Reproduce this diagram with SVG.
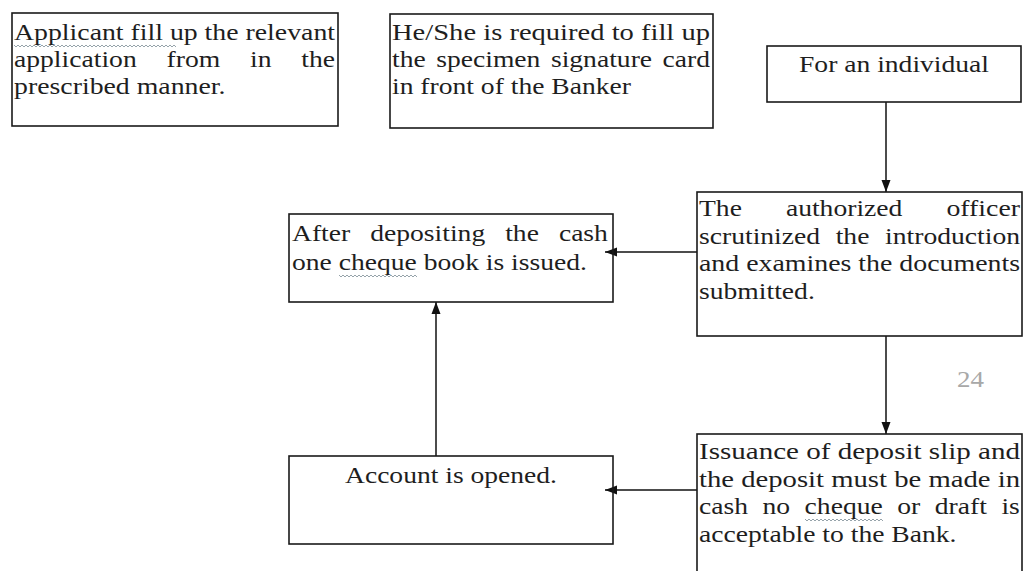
<svg xmlns="http://www.w3.org/2000/svg" width="1026" height="571" viewBox="0 0 1026 571">
<defs>
<style>
.box{fill:none;stroke:#1a1a1a;stroke-width:1.6}
.t{font-family:"Liberation Serif","Times New Roman",serif;font-size:23.5px;fill:#1e1e1e}
.c{stroke:#111;stroke-width:1.5;fill:none}
.sq{fill:none;stroke:#8a98a0;stroke-width:0.9}
</style>
<marker id="ah" viewBox="0 0 12 10" refX="12" refY="5" markerWidth="12" markerHeight="10" markerUnits="userSpaceOnUse" orient="auto">
<path d="M0,0.5 L12,5 L0,9.5 Z" fill="#111"/>
</marker>
</defs>
<rect width="1026" height="571" fill="#ffffff"/>

<g id="connectors">
<line class="c" x1="886" y1="102" x2="886" y2="192" marker-end="url(#ah)"/>
<line class="c" x1="697" y1="252" x2="605" y2="252" marker-end="url(#ah)"/>
<line class="c" x1="886" y1="336" x2="886" y2="434" marker-end="url(#ah)"/>
<line class="c" x1="697" y1="490" x2="605" y2="490" marker-end="url(#ah)"/>
<line class="c" x1="436" y1="456" x2="436" y2="302" marker-end="url(#ah)"/>
</g>

<g id="node-applicant">
<rect class="box" x="12" y="13" width="326" height="113"/>
<text class="t" x="14" y="40" textLength="321" lengthAdjust="spacingAndGlyphs">Applicant fill up the relevant</text>
<text class="t" x="14" y="67" textLength="122.7" lengthAdjust="spacingAndGlyphs">application</text>
<text class="t" x="166.5" y="67" textLength="53.7" lengthAdjust="spacingAndGlyphs">from</text>
<text class="t" x="250" y="67" textLength="21.5" lengthAdjust="spacingAndGlyphs">in</text>
<text class="t" x="301.3" y="67" textLength="33.7" lengthAdjust="spacingAndGlyphs">the</text>
<text class="t" x="14" y="94" textLength="211.5" lengthAdjust="spacingAndGlyphs">prescribed manner.</text>
<path class="sq" d="M14,45 l2,2 l2,-2 l2,2 l2,-2 l2,2 l2,-2 l2,2 l2,-2 l2,2 l2,-2 l2,2 l2,-2 l2,2 l2,-2 l2,2 l2,-2 l2,2 l2,-2 l2,2 l2,-2 l2,2 l2,-2 l2,2 l2,-2 l2,2 l2,-2 l2,2 l2,-2 l2,2 l2,-2 l2,2 l2,-2 l2,2 l2,-2 l2,2 l2,-2 l2,2 l2,-2 l2,2 l2,-2 l2,2 l2,-2 l2,2 l2,-2 l2,2 l2,-2 l2,2 l2,-2 l2,2 l2,-2 l2,2 l2,-2 l2,2 l2,-2 l2,2 l2,-2 l2,2 l2,-2 l2,2 l2,-2 l2,2 l2,-2 l2,2 l2,-2 l2,2 l2,-2 l2,2 l2,-2 l2,2 l2,-2 l2,2 l2,-2 l2,2 l2,-2 l2,2 l2,-2 l2,2 l2,-2 l2,2 l2,-2 l2,2"/>
</g>

<g id="node-signature">
<rect class="box" x="390" y="14" width="323" height="114"/>
<text class="t" x="392" y="40" textLength="318" lengthAdjust="spacingAndGlyphs">He/She is required to fill up</text>
<text class="t" x="392" y="67" textLength="33.7" lengthAdjust="spacingAndGlyphs">the</text>
<text class="t" x="436.2" y="67" textLength="104.2" lengthAdjust="spacingAndGlyphs">specimen</text>
<text class="t" x="550.9" y="67" textLength="101.2" lengthAdjust="spacingAndGlyphs">signature</text>
<text class="t" x="662.6" y="67" textLength="47.4" lengthAdjust="spacingAndGlyphs">card</text>
<text class="t" x="392" y="94" textLength="239" lengthAdjust="spacingAndGlyphs">in front of the Banker</text>
</g>

<g id="node-individual">
<rect class="box" x="767" y="46" width="254" height="56"/>
<text class="t" x="799" y="72" textLength="190" lengthAdjust="spacingAndGlyphs">For an individual</text>
</g>

<g id="node-officer">
<rect class="box" x="697" y="192" width="325" height="144"/>
<text class="t" x="699" y="216" textLength="42.9" lengthAdjust="spacingAndGlyphs">The</text>
<text class="t" x="785.9" y="216" textLength="116.5" lengthAdjust="spacingAndGlyphs">authorized</text>
<text class="t" x="946.4" y="216" textLength="73.6" lengthAdjust="spacingAndGlyphs">officer</text>
<text class="t" x="699" y="244" textLength="121.1" lengthAdjust="spacingAndGlyphs">scrutinized</text>
<text class="t" x="835.7" y="244" textLength="33.7" lengthAdjust="spacingAndGlyphs">the</text>
<text class="t" x="885.1" y="244" textLength="134.9" lengthAdjust="spacingAndGlyphs">introduction</text>
<text class="t" x="699" y="271" textLength="321" lengthAdjust="spacingAndGlyphs">and examines the documents</text>
<text class="t" x="699" y="299" textLength="115.8" lengthAdjust="spacingAndGlyphs">submitted.</text>
</g>

<g id="node-cheque-book">
<rect class="box" x="289" y="214" width="324" height="88"/>
<text class="t" x="292" y="241" textLength="58.2" lengthAdjust="spacingAndGlyphs">After</text>
<text class="t" x="370.2" y="241" textLength="115" lengthAdjust="spacingAndGlyphs">depositing</text>
<text class="t" x="505.2" y="241" textLength="33.7" lengthAdjust="spacingAndGlyphs">the</text>
<text class="t" x="558.9" y="241" textLength="49" lengthAdjust="spacingAndGlyphs">cash</text>
<text class="t" x="292" y="270" textLength="295" lengthAdjust="spacingAndGlyphs">one cheque book is issued.</text>
<path class="sq" d="M339,275 l2,2 l2,-2 l2,2 l2,-2 l2,2 l2,-2 l2,2 l2,-2 l2,2 l2,-2 l2,2 l2,-2 l2,2 l2,-2 l2,2 l2,-2 l2,2 l2,-2 l2,2 l2,-2 l2,2 l2,-2 l2,2 l2,-2 l2,2 l2,-2 l2,2 l2,-2 l2,2 l2,-2 l2,2 l2,-2 l2,2 l2,-2 l2,2 l2,-2 l2,2 l2,-2 l2,2"/>
</g>

<g id="node-account">
<rect class="box" x="289" y="456" width="324" height="88"/>
<text class="t" x="345" y="483" textLength="212" lengthAdjust="spacingAndGlyphs">Account is opened.</text>
</g>

<g id="node-deposit">
<rect class="box" x="697" y="434" width="325" height="150"/>
<text class="t" x="699" y="459" textLength="321" lengthAdjust="spacingAndGlyphs">Issuance of deposit slip and</text>
<text class="t" x="699" y="487" textLength="321" lengthAdjust="spacingAndGlyphs">the deposit must be made in</text>
<text class="t" x="699" y="514" textLength="49" lengthAdjust="spacingAndGlyphs">cash</text>
<text class="t" x="762.5" y="514" textLength="27.6" lengthAdjust="spacingAndGlyphs">no</text>
<text class="t" x="804.6" y="514" textLength="78.2" lengthAdjust="spacingAndGlyphs">cheque</text>
<text class="t" x="897.3" y="514" textLength="23" lengthAdjust="spacingAndGlyphs">or</text>
<text class="t" x="934.8" y="514" textLength="52.1" lengthAdjust="spacingAndGlyphs">draft</text>
<text class="t" x="1001.4" y="514" textLength="18.4" lengthAdjust="spacingAndGlyphs">is</text>
<text class="t" x="699" y="542" textLength="257.5" lengthAdjust="spacingAndGlyphs">acceptable to the Bank.</text>
<path class="sq" d="M805,519 l2,2 l2,-2 l2,2 l2,-2 l2,2 l2,-2 l2,2 l2,-2 l2,2 l2,-2 l2,2 l2,-2 l2,2 l2,-2 l2,2 l2,-2 l2,2 l2,-2 l2,2 l2,-2 l2,2 l2,-2 l2,2 l2,-2 l2,2 l2,-2 l2,2 l2,-2 l2,2 l2,-2 l2,2 l2,-2 l2,2 l2,-2 l2,2 l2,-2 l2,2 l2,-2 l2,2"/>
</g>

<text class="t" x="957" y="387" style="fill:#a8a8a8" textLength="27" lengthAdjust="spacingAndGlyphs">24</text>
</svg>
